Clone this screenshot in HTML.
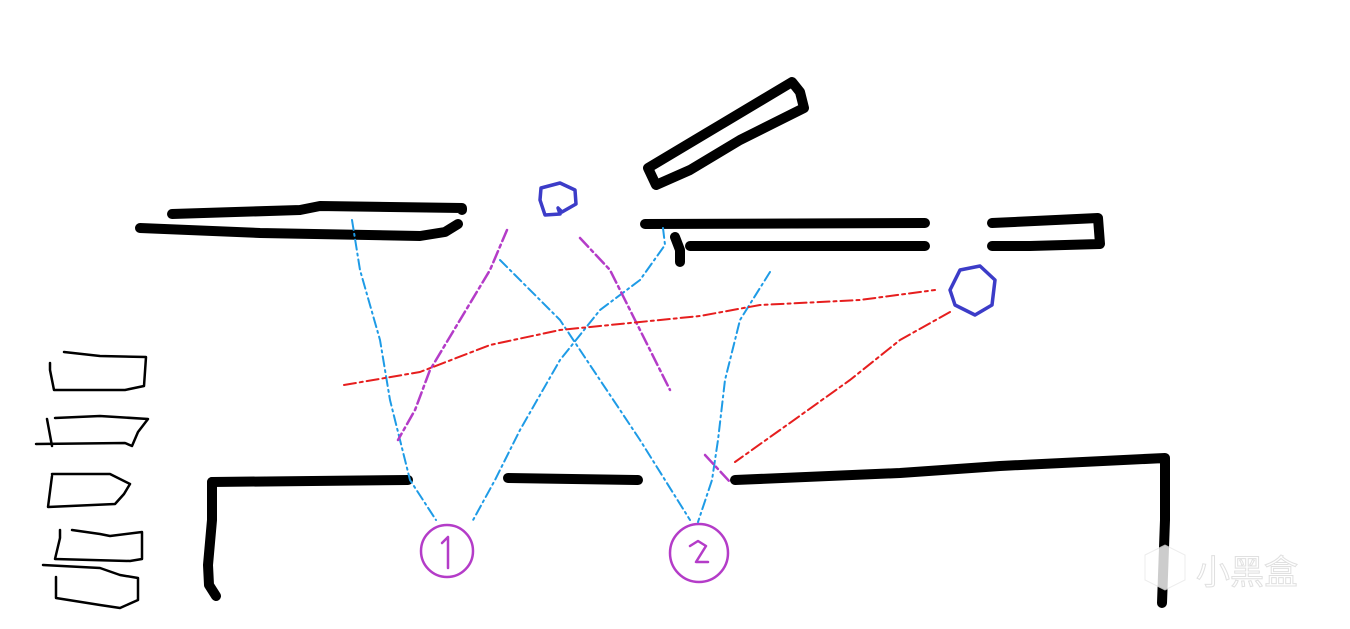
<!DOCTYPE html>
<html><head><meta charset="utf-8"><style>
html,body{margin:0;padding:0;background:#fff;width:1350px;height:629px;overflow:hidden}
svg{display:block}
</style></head><body>
<svg width="1350" height="629" viewBox="0 0 1350 629" xmlns="http://www.w3.org/2000/svg">
<g fill="none" stroke-linecap="round" stroke-linejoin="round">
<!-- thick black walls -->
<g stroke="#000" stroke-width="10">
<path d="M172 214 L300 210 L320 206 L462 208 L462 210"/>
<path d="M140 228 L260 233 L420 236 L445 232 L458 224"/>
<path d="M648 168 L720 125 L792 82 L800 92 L804 108 L740 140 L690 170 L656 185 Z"/>
<path d="M645 224 L925 223"/>
<path d="M690 246 L925 246"/>
<path d="M675 237 L680 250 L680 262"/>
<path d="M992 223 L1098 218 L1100 244 L1030 246 L992 246"/>
<path d="M212 482 L408 480"/>
<path d="M508 478 L638 480"/>
<path d="M735 480 L900 473 L1000 466 L1165 458 L1165 520 L1162 603"/>
<path d="M212 482 L212 520 L208 565 L209 585 L216 596"/>
</g>
<!-- thin black boxes -->
<g stroke="#000" stroke-width="2.5">
<path d="M64 352 L100 356 L146 357 L144 386 L125 390 L54 390 L50 370 L50 363"/>
<path d="M55 418 L100 416 L148 419 L138 432 L132 446 L125 443 L36 444"/>
<path d="M47 419 L52 446"/>
<path d="M52 474 L110 474 L130 484 L124 494 L115 504 L48 507 L52 476"/>
<path d="M72 530 L100 534 L110 536 L142 532 L142 559 L130 561 L55 559 L60 538 L60 530"/>
<path d="M43 565 L100 568 L120 575 L138 578 L138 600 L120 608 L100 605 L56 598 L56 577"/>
</g>
<!-- blue circles -->
<g stroke="#3c3cc8" stroke-width="3.5">
<path d="M541 188 L560 183 L575 190 L576 204 L562 212 L558 208 L560 214 L545 215 L540 200 Z"/>
<path d="M960 270 L980 266 L995 280 L992 305 L975 315 L955 305 L950 290 Z"/>
</g>
<!-- magenta circles -->
<g stroke="#b43cc8" stroke-width="2.5">
<circle cx="447" cy="551" r="26"/>
<circle cx="699" cy="553" r="29"/>
<path d="M442 543 L448 537 L448 568"/>
<path d="M690 546 L698 541 L706 546 L696 562 L708 562"/>
</g>
<!-- dashed lines -->
<g stroke="#1e9be6" stroke-width="2" stroke-dasharray="10 4 2 4">
<path d="M352 220 L360 270 L380 340 L390 400 L410 480 L436 520"/>
<path d="M663 228 L665 245 L640 280 L600 310 L560 360 L520 430 L495 480 L472 522"/>
<path d="M500 260 L560 320 L600 380 L640 440 L690 520"/>
<path d="M770 272 L740 320 L725 380 L718 440 L712 480 L698 522"/>
</g>
<g stroke="#b43cc8" stroke-width="2.5" stroke-dasharray="12 4 3 4">
<path d="M507 230 L490 270 L460 320 L430 370 L415 410 L398 440"/>
<path d="M580 238 L610 270 L630 310 L650 350 L670 390"/>
<path d="M705 455 L730 482"/>
</g>
<g stroke="#e61e1e" stroke-width="2" stroke-dasharray="12 4 3 4">
<path d="M344 385 L420 372 L490 345 L560 330 L640 322 L700 316 L760 305 L860 300 L935 290"/>
<path d="M950 312 L900 340 L850 380 L780 430 L735 462"/>
</g>
</g>
<!-- watermark -->
<g fill="#ffffff" opacity="0.8" stroke="#e8e8e8" stroke-width="1">
<path d="M1145 555 L1165 545 L1185 555 L1185 580 L1165 590 L1145 580 Z"/>
</g>
<text x="1196" y="584" font-family="'Liberation Sans','Noto Sans CJK SC',sans-serif" font-size="34" fill="#fff" stroke="#e0e0e0" stroke-width="1">小黑盒</text>
</svg>
</body></html>
